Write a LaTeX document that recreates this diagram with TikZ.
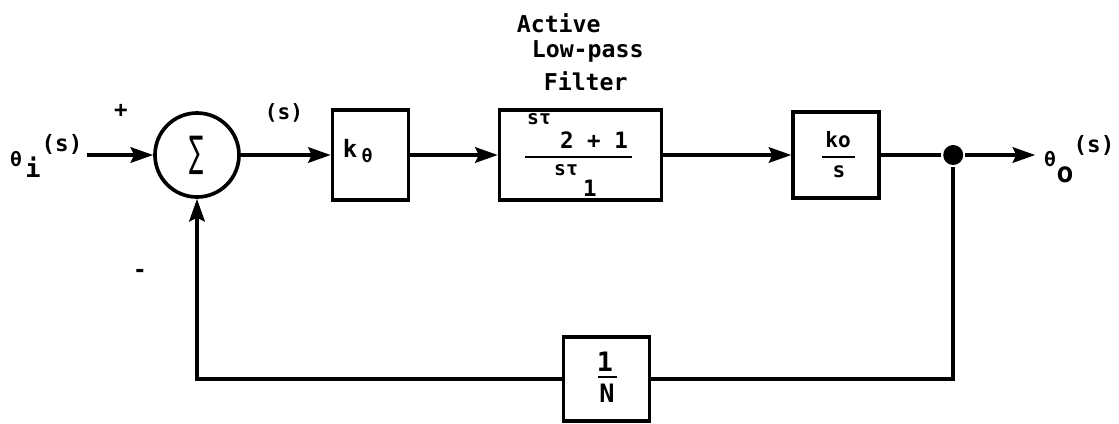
\documentclass[tikz,border=0pt]{standalone}
\usepackage{fontspec}
\setmainfont{DejaVu Sans Mono}
\newfontfamily\symfnt{DejaVu Sans}
\usetikzlibrary{arrows.meta,positioning}

\tikzset{
  block/.style={draw,line width=2.6pt,inner sep=0pt},
  sumnode/.style={draw,circle,line width=2.6pt,minimum size=2.1cm,inner sep=0pt},
  junc/.style={circle,fill,minimum size=0.5cm,inner sep=0pt},
  lbl/.style={inner sep=0pt,font=\bfseries},
}
\newcommand{\fs}[1]{\fontsize{#1}{#1}\selectfont}

\begin{document}
\begin{tikzpicture}[x=0.025cm,y=-0.025cm,line width=2.6pt,>={Stealth[length=16pt,width=11pt,inset=2.5pt]}]
\useasboundingbox (0,0) rectangle (1119,423);
% forward path
\node (sum)  [sumnode] at (197,155) {\scalebox{0.5}[1]{\symfnt\itshape\fs{30}∑}};
\node (k)    [block,minimum width=1.9cm,minimum height=2.25cm,node distance=4.3375cm,right of=sum] {};
\node (filt) [block,minimum width=4.05cm,minimum height=2.25cm,node distance=5.25cm,right of=k] {};
\node (ko)   [block,minimum width=2.15cm,minimum height=2.15cm,node distance=6.3875cm,right of=filt] {};
\node (dot)  [junc,node distance=2.925cm,right of=ko] {};
\coordinate (inp) at (87,155);
\coordinate [node distance=2.05cm,right of=dot] (outp);
% feedback
\node (fb) [block,minimum width=2.15cm,minimum height=2.1cm] at (606.5,379) {};

% signs and labels
\node (thi)   [lbl] at (16,159)  {\fs{14}θ};
\node (thisb) [lbl] at (33,167)  {\fs{18}i};
\node (this)  [lbl] at (62,144)  {\fs{16}(s)};
\node (plus)  [lbl] at (121,111) {\fs{16}+};
\node (minus) [lbl] at (140,273) {\fs{16}-};
\node (smid)  [lbl] at (284,113) {\fs{15}(s)};
\node (act)   [lbl,anchor=base west] at (515,32) {\fs{16.5}Active};
\node (lowp)  [lbl,anchor=base west] at (530,57) {\fs{16.5}Low-pass};
\node (filtr) [lbl,anchor=base west] at (542,90) {\fs{16.5}Filter};
\node (tho)   [lbl] at (1050,159) {\fs{14}θ};
\node (thosb) [lbl] at (1065,175) {\fs{20}o};
\node (thos)  [lbl] at (1094,145) {\fs{16}(s)};

% block contents
\node (kt)    [lbl] at (350,148) {\fs{17}k};
\node (ktsb)  [lbl] at (367,156) {\fs{13}θ};
\node (fnum1) [lbl] at (539,119) {\fs{14}sτ};
\node (fnum2) [lbl] at (594,140) {\fs{16}2 + 1};
\node (fden1) [lbl] at (566,170) {\fs{14}sτ};
\node (fden2) [lbl] at (590,188) {\fs{16}1};
\draw[line width=2pt] (525,157) -- (632,157);
\node (konum) [lbl] at (838,140) {\fs{15}ko};
\node (koden) [lbl] at (839,172) {\fs{15}s};
\draw[line width=2pt] (822,157) -- (855,157);
\node (fbnum) [lbl] at (605,362) {\fs{19}1};
\node (fbden) [lbl] at (607,393) {\fs{18}N};
\draw[line width=2pt] (598,377) -- (617,377);

% connections
\draw[->] (inp) -- (sum);
\draw[->] (sum) -- (k);
\draw[->] (k) -- (filt);
\draw[->] (filt) -- (ko);
\draw (ko) -- (dot);
\draw[->] (dot) -- (outp);
\draw (dot) |- (fb);
\draw[->] (fb) -| (sum);
\end{tikzpicture}
\end{document}
